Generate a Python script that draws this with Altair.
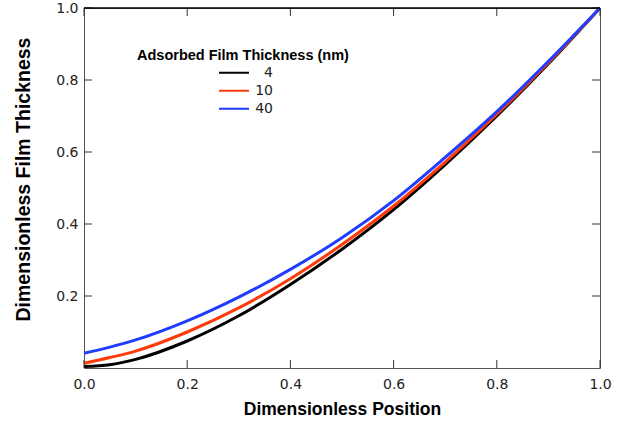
import altair as alt
import pandas as pd

# ---- data ----
x_pos = [0.0, 0.05, 0.1, 0.2, 0.3, 0.4, 0.5, 0.6, 0.7, 0.8, 0.9, 1.0]
thick_4 = [0.004, 0.009, 0.024, 0.075, 0.145, 0.232, 0.330, 0.440, 0.565, 0.700, 0.845, 1.0]
thick_10 = [0.013, 0.029, 0.047, 0.100, 0.167, 0.248, 0.343, 0.450, 0.572, 0.705, 0.848, 1.0]
thick_40 = [0.041, 0.058, 0.078, 0.131, 0.197, 0.274, 0.362, 0.465, 0.585, 0.712, 0.852, 1.0]

series_names = ["4", "10", "40"]
series_colors = ["#000000", "#ff3a0a", "#1f3dff"]
x_ticks = [0.0, 0.2, 0.4, 0.6, 0.8, 1.0]
y_ticks = [0.2, 0.4, 0.6, 0.8, 1.0]
legend_title = "Adsorbed Film Thickness (nm)"

W, H = 516, 360

rows = []
for name, vals in zip(series_names, [thick_4, thick_10, thick_40]):
    for xv, yv in zip(x_pos, vals):
        rows.append({"x": xv, "y": yv, "film": name})
df = pd.DataFrame(rows)

xscale = alt.Scale(domain=[0, 1], nice=False, zero=False)
yscale = alt.Scale(domain=[0, 1], nice=False, zero=False)

lines = alt.Chart(df).mark_line(strokeWidth=3, interpolate="monotone").encode(
    x=alt.X("x:Q", scale=xscale,
            axis=alt.Axis(title="Dimensionless Position", values=x_ticks, format=".1f",
                          ticks=False, domain=False, grid=False, labelPadding=9,
                          labelFlush=False, titlePadding=9)),
    y=alt.Y("y:Q", scale=yscale,
            axis=alt.Axis(title="Dimensionless Film Thickness", values=y_ticks, format=".1f",
                          ticks=False, domain=False, grid=False, labelPadding=6,
                          labelFlush=False, titlePadding=22, titleFontSize=19.5,
                          titleY=171)),
    color=alt.Color("film:N",
                    scale=alt.Scale(domain=series_names, range=series_colors),
                    legend=alt.Legend(title=None, orient="none", legendX=134, legendY=56,
                                      symbolType="stroke", symbolSize=900,
                                      symbolStrokeWidth=2, clipHeight=17.5, rowPadding=0,
                                      padding=0, labelOffset=23, labelAlign="right",
                                      labelFont="DejaVu Sans", labelFontSize=14,
                                      labelColor="#222222")),
)

xt = pd.DataFrame({"t": x_ticks})
yt = pd.DataFrame({"t": y_ticks})

tick_style = dict(color="#333333", strokeWidth=1)
bottom_ticks = alt.Chart(xt).mark_rule(**tick_style).encode(
    x=alt.X("t:Q", scale=xscale), y=alt.value(H), y2=alt.value(H - 8))
top_ticks = alt.Chart(xt).mark_rule(**tick_style).encode(
    x=alt.X("t:Q", scale=xscale), y=alt.value(0), y2=alt.value(8))
left_ticks = alt.Chart(yt).mark_rule(**tick_style).encode(
    y=alt.Y("t:Q", scale=yscale), x=alt.value(0), x2=alt.value(8))
right_ticks = alt.Chart(yt).mark_rule(**tick_style).encode(
    y=alt.Y("t:Q", scale=yscale), x=alt.value(W), x2=alt.value(W - 8))

top_border = alt.Chart(pd.DataFrame({"a": [0]})).mark_rule(color="#000000", strokeWidth=1.5).encode(
    x=alt.value(0), x2=alt.value(W), y=alt.value(0))

title_text = alt.Chart(pd.DataFrame({"label": [legend_title]})).mark_text(
    align="left", baseline="middle", font="Liberation Sans", fontWeight="bold",
    fontSize=14.5, color="#000000").encode(
    text="label:N", x=alt.value(53), y=alt.value(48))

chart = alt.layer(lines, bottom_ticks, top_ticks, left_ticks, right_ticks, top_border,
                  title_text).properties(
    width=W, height=H,
    autosize=alt.AutoSizeParams(type="none"),
    padding={"left": 84, "top": 8, "right": 30, "bottom": 60},
).configure(background="white").configure_view(
    stroke="#555555", strokeWidth=1
).configure_axis(
    labelFont="DejaVu Sans", labelFontSize=14, labelColor="#222222",
    titleFont="Liberation Sans", titleFontSize=17.5, titleFontWeight="bold",
    titleColor="#000000",
)

chart.save("out.html", embed_options={"renderer": "svg", "actions": False})
